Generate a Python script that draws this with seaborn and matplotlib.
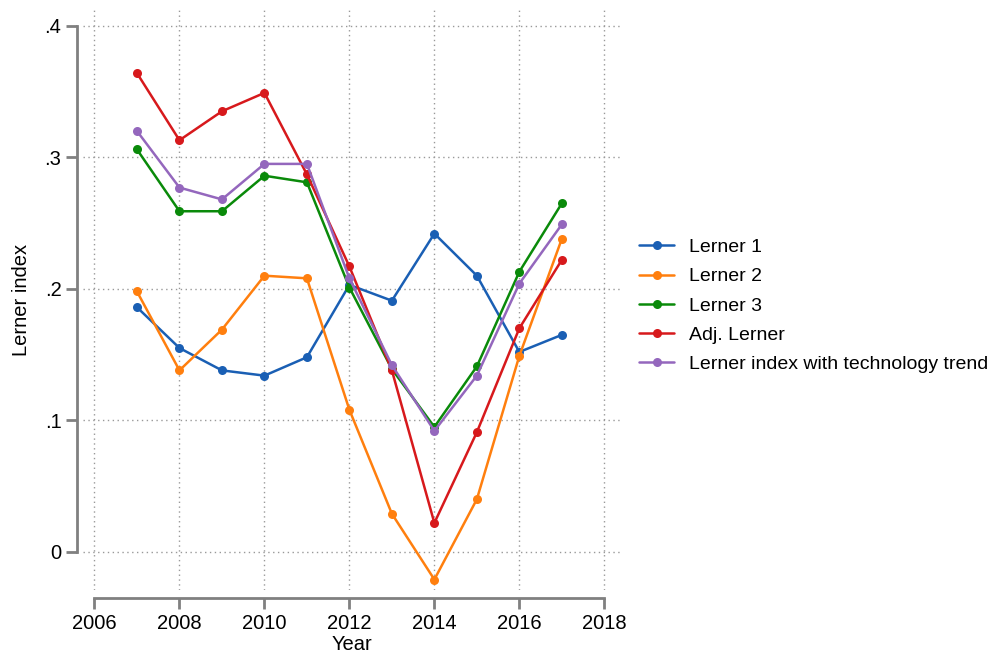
import matplotlib
matplotlib.use("Agg")
import matplotlib.pyplot as plt
import seaborn as sns
import pandas as pd

# data
years = [2007, 2008, 2009, 2010, 2011, 2012, 2013, 2014, 2015, 2016, 2017]
lerner1 = [0.186, 0.155, 0.138, 0.134, 0.148, 0.203, 0.191, 0.242, 0.210, 0.152, 0.165]
lerner2 = [0.198, 0.138, 0.169, 0.210, 0.208, 0.108, 0.029, -0.021, 0.040, 0.149, 0.238]
lerner3 = [0.306, 0.259, 0.259, 0.286, 0.281, 0.201, 0.139, 0.095, 0.141, 0.213, 0.265]
adj_lerner = [0.364, 0.313, 0.335, 0.349, 0.287, 0.217, 0.138, 0.022, 0.091, 0.170, 0.222]
lerner_tech = [0.320, 0.277, 0.268, 0.295, 0.295, 0.208, 0.142, 0.092, 0.134, 0.204, 0.249]

series_names = ["Lerner 1", "Lerner 2", "Lerner 3", "Adj. Lerner",
                "Lerner index with technology trend"]
series_vals = [lerner1, lerner2, lerner3, adj_lerner, lerner_tech]
colors = ["#1a5fb4", "#ff7f0e", "#0a8a0a", "#d7191c", "#9467bd"]

rows = []
for name, vals in zip(series_names, series_vals):
    for yr, v in zip(years, vals):
        rows.append({"Year": yr, "value": v, "series": name})
df = pd.DataFrame(rows)

sns.set_style("white")
plt.rcParams["font.family"] = ["Liberation Sans", "DejaVu Sans"]
plt.rcParams["text.color"] = "black"
plt.rcParams["axes.labelcolor"] = "black"
plt.rcParams["xtick.color"] = "black"
plt.rcParams["ytick.color"] = "black"

fig = plt.figure(figsize=(9.93, 6.55), dpi=100)
ax = fig.add_axes([0.0836, 0.0992, 0.5408, 0.8855])

sns.lineplot(data=df, x="Year", y="value", hue="series", hue_order=series_names,
             palette=colors, marker="o", markersize=6.5, markeredgewidth=0,
             linewidth=1.8, ax=ax)

ax.set_xlim(2005.73, 2018.37)
ax.set_ylim(-0.029, 0.412)
ax.set_xticks([2006, 2008, 2010, 2012, 2014, 2016, 2018])
ax.set_yticks([0, 0.1, 0.2, 0.3, 0.4])
ax.set_yticklabels(["0", ".1", ".2", ".3", ".4"])

ax.grid(True, linestyle=(0, (1, 2.5)), color="#999999", linewidth=1.0)

for side in ["top", "right"]:
    ax.spines[side].set_visible(False)
ax.spines["left"].set_position(("outward", 4))
ax.spines["bottom"].set_position(("outward", 6))
ax.spines["left"].set_bounds(0, 0.4)
ax.spines["bottom"].set_bounds(2006, 2018)
for side in ["left", "bottom"]:
    ax.spines[side].set_color("#808080")
    ax.spines[side].set_linewidth(2)

ax.tick_params(axis="both", which="major", length=8, width=2, color="#808080",
               labelcolor="black", labelsize=14.5, direction="out",
               left=True, bottom=True)
ax.set_xlabel("Year", fontsize=14.5, labelpad=1)
ax.set_ylabel("Lerner index", fontsize=14.5, labelpad=10)

ax.legend(loc="center left", bbox_to_anchor=(1.0, 0.49), frameon=False,
          fontsize=14, handlelength=1.8, handletextpad=0.75,
          borderaxespad=0.6, labelspacing=0.6)

fig.savefig("out.png", dpi=100)
